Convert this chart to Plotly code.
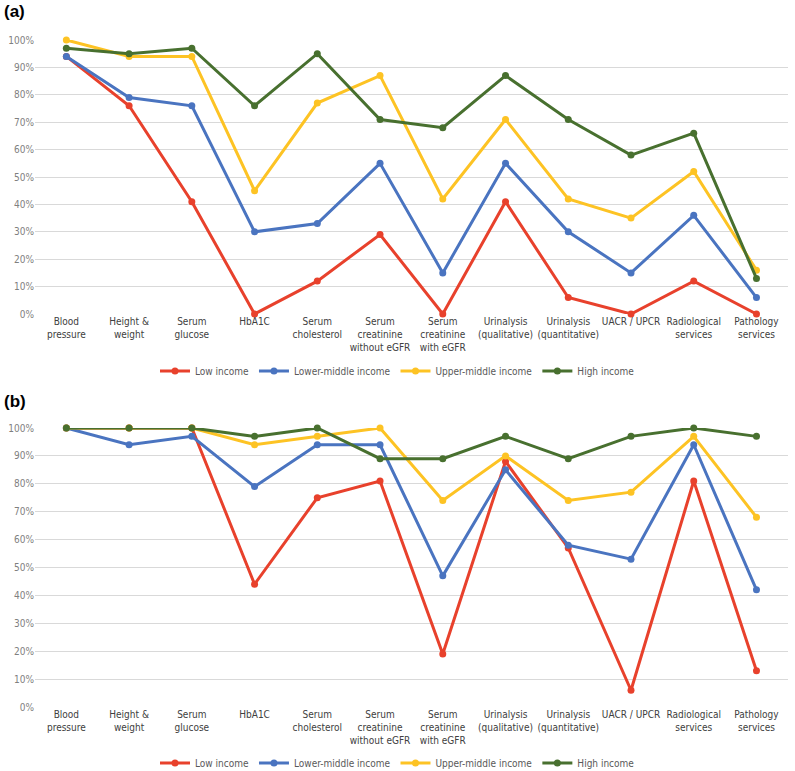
import plotly.graph_objects as go

categories = ["Blood<br>pressure", "Height &<br>weight", "Serum<br>glucose", "HbA1C",
              "Serum<br>cholesterol", "Serum<br>creatinine<br>without eGFR",
              "Serum<br>creatinine<br>with eGFR", "Urinalysis<br>(qualitative)",
              "Urinalysis<br>(quantitative)", "UACR / UPCR", "Radiological<br>services",
              "Pathology<br>services"]

series_names = ["Low income", "Lower-middle income", "Upper-middle income", "High income"]
colors = ["#e8412c", "#4a74c0", "#fdc324", "#48702f"]

# panel (a)
a_low = [94, 76, 41, 0, 12, 29, 0, 41, 6, 0, 12, 0]
a_lower_mid = [94, 79, 76, 30, 33, 55, 15, 55, 30, 15, 36, 6]
a_upper_mid = [100, 94, 94, 45, 77, 87, 42, 71, 42, 35, 52, 16]
a_high = [97, 95, 97, 76, 95, 71, 68, 87, 71, 58, 66, 13]

# panel (b)
b_low = [100, 100, 100, 44, 75, 81, 19, 88, 57, 6, 81, 13]
b_lower_mid = [100, 94, 97, 79, 94, 94, 47, 85, 58, 53, 94, 42]
b_upper_mid = [100, 100, 100, 94, 97, 100, 74, 90, 74, 77, 97, 68]
b_high = [100, 100, 100, 97, 100, 89, 89, 97, 89, 97, 100, 97]

H = 771
font_name = "DejaVu Sans Condensed"

fig = go.Figure()

panels = [
    ([a_low, a_lower_mid, a_upper_mid, a_high], "x", "y", "legend"),
    ([b_low, b_lower_mid, b_upper_mid, b_high], "x2", "y2", "legend2"),
]
for data, xa, ya, lg in panels:
    for name, vals, col in zip(series_names, data, colors):
        fig.add_trace(go.Scatter(
            x=list(range(len(categories))), y=[v / 100 for v in vals],
            mode="lines+markers", name=name,
            line=dict(color=col, width=3), marker=dict(color=col, size=7),
            xaxis=xa, yaxis=ya, legend=lg, cliponaxis=False,
        ))


def ydom(top_px, bottom_px):
    return [(H - bottom_px) / H, (H - top_px) / H]


xcommon = dict(range=[-0.5, 11.5], domain=[0.044, 0.991], tickmode="array",
               tickvals=list(range(len(categories))), ticktext=categories, tickangle=0,
               showgrid=False, zeroline=False, showline=False, ticks="", fixedrange=True,
               tickfont=dict(size=10, color="#404040", family=font_name))
ycommon = dict(range=[0, 1], tickformat=".0%", dtick=0.1, showgrid=True,
               gridcolor="#d9d9d9", gridwidth=1, zeroline=False, showline=False, ticks="",
               tickfont=dict(size=10, color="#7f7f7f", family=font_name))
legcommon = dict(orientation="h", x=0.5, xanchor="center", yanchor="middle",
                 font=dict(size=10, color="#595959", family=font_name),
                 itemwidth=30, tracegroupgap=0)

fig.update_layout(
    width=795, height=H,
    margin=dict(l=0, r=0, t=0, b=0, autoexpand=False),
    paper_bgcolor="white", plot_bgcolor="white",
    xaxis=dict(**xcommon, anchor="y"),
    yaxis=dict(**ycommon, domain=ydom(40, 314), anchor="x"),
    xaxis2=dict(**xcommon, anchor="y2"),
    yaxis2=dict(**ycommon, domain=ydom(428, 707), anchor="x2"),
    legend=dict(**legcommon, y=(H - 371) / H),
    legend2=dict(**legcommon, y=(H - 763) / H),
    annotations=[
        dict(text="<b>(a)</b>", x=0.002, y=(H - 12) / H, xref="paper", yref="paper",
             xanchor="left", yanchor="middle", showarrow=False,
             font=dict(size=17, color="black", family="Arial")),
        dict(text="<b>(b)</b>", x=0.002, y=(H - 402) / H, xref="paper", yref="paper",
             xanchor="left", yanchor="middle", showarrow=False,
             font=dict(size=17, color="black", family="Arial")),
    ],
)

fig.write_html("out.html", config={"displayModeBar": False},
               post_script="document.body.style.margin='0';")
